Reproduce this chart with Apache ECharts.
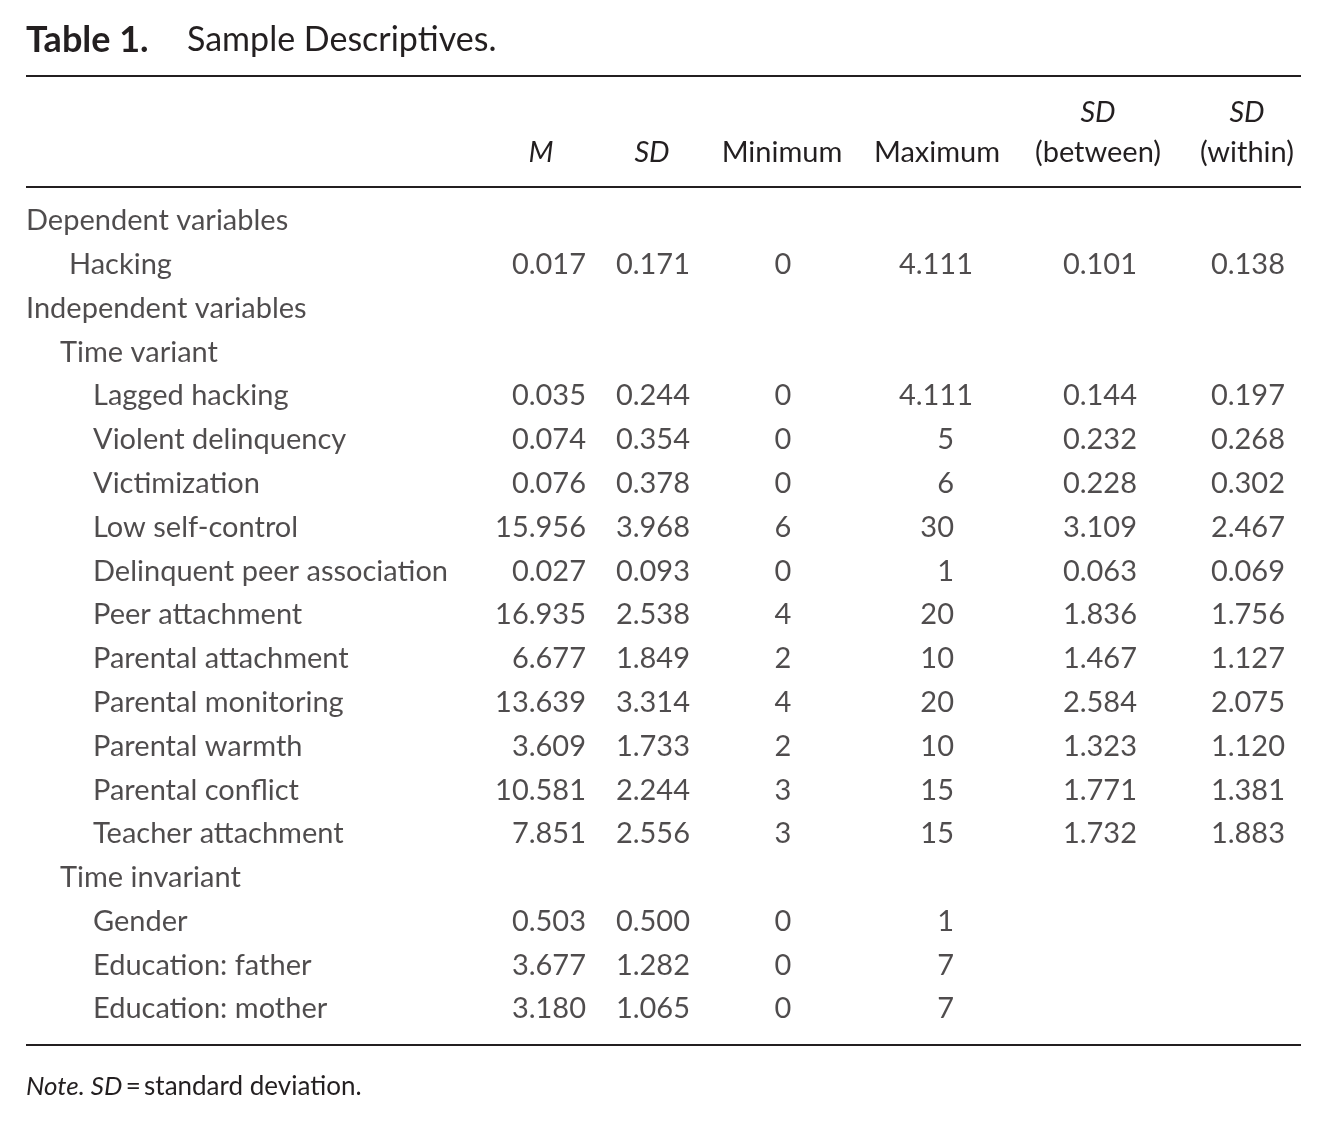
<!DOCTYPE html>
<html>
<head>
<meta charset="utf-8">
<style>
  html, body { margin: 0; padding: 0; background: #fff; }
  #chart { width: 1327px; height: 1121px; }
</style>
</head>
<body>
<div id="chart"></div>
<script src="https://cdn.jsdelivr.net/npm/echarts@6/dist/echarts.min.js"></script>
<script type="text/javascript">
// table rows (top to bottom)
var rowLabels = ['Dependent variables', 'Hacking', 'Independent variables', 'Time variant',
    'Lagged hacking', 'Violent delinquency', 'Victimization', 'Low self-control',
    'Delinquent peer association', 'Peer attachment', 'Parental attachment',
    'Parental monitoring', 'Parental warmth', 'Parental conflict', 'Teacher attachment',
    'Time invariant', 'Gender', 'Education: father', 'Education: mother'];
// indent level: 0 = group, 1 = sub group, 2 = variable, 3 = dependent variable
var rowLevels = [0, 3, 0, 1, 2, 2, 2, 2, 2, 2, 2, 2, 2, 2, 2, 1, 2, 2, 2];

var colMean = [null, 0.017, null, null, 0.035, 0.074, 0.076, 15.956, 0.027, 16.935, 6.677, 13.639, 3.609, 10.581, 7.851, null, 0.503, 3.677, 3.180];
var colSD = [null, 0.171, null, null, 0.244, 0.354, 0.378, 3.968, 0.093, 2.538, 1.849, 3.314, 1.733, 2.244, 2.556, null, 0.500, 1.282, 1.065];
var colMin = [null, 0, null, null, 0, 0, 0, 6, 0, 4, 2, 4, 2, 3, 3, null, 0, 0, 0];
var colMax = [null, 4.111, null, null, 4.111, 5, 6, 30, 1, 20, 10, 20, 10, 15, 15, null, 1, 7, 7];
var colSDb = [null, 0.101, null, null, 0.144, 0.232, 0.228, 3.109, 0.063, 1.836, 1.467, 2.584, 1.323, 1.771, 1.732, null, null, null, null];
var colSDw = [null, 0.138, null, null, 0.197, 0.268, 0.302, 2.467, 0.069, 1.756, 1.127, 2.075, 1.120, 1.381, 1.883, null, null, null, null];

var FONT = 'Lato';
var INK = '#231f20';
var SIZE = 29;
var indents = [26, 60, 93, 69];

function fmt(v) {
    return Number.isInteger(v) ? String(v) : v.toFixed(3);
}

// one text series per column; x is the anchor, y the row
function column(name, values, x, pos, decimalShift) {
    var data = [];
    values.forEach(function (v, i) {
        if (v === null) return;
        var px = x;
        if (decimalShift && !Number.isInteger(v)) px += decimalShift;
        data.push({ value: [px, i], text: fmt(v) });
    });
    return {
        name: name,
        type: 'scatter',
        symbolSize: 0,
        data: data,
        silent: true,
        label: {
            show: true,
            position: pos,
            distance: 0,
            formatter: function (p) { return p.data.text; },
            fontFamily: FONT,
            fontSize: SIZE,
            color: INK
        }
    };
}

var labelData = rowLabels.map(function (t, i) {
    return { value: [indents[rowLevels[i]], i], text: t };
});

var series = [
    {
        name: 'Variable',
        type: 'scatter',
        symbolSize: 0,
        silent: true,
        data: labelData,
        label: {
            show: true,
            position: 'right',
            distance: 0,
            formatter: function (p) { return p.data.text; },
            fontFamily: FONT,
            fontSize: SIZE,
            color: INK
        }
    },
    column('M', colMean, 586, 'left'),
    column('SD', colSD, 690, 'left'),
    column('Minimum', colMin, 783, 'inside'),
    column('Maximum', colMax, 954, 'left', 19),
    column('SD (between)', colSDb, 1137, 'left'),
    column('SD (within)', colSDw, 1285, 'left')
];

function txt(x, y, s, opts) {
    var st = {
        x: x, y: y, text: s,
        fill: INK,
        font: (opts && opts.font) || (SIZE + 'px ' + FONT),
        textAlign: (opts && opts.align) || 'center',
        textVerticalAlign: 'middle'
    };
    return { type: 'text', style: st, silent: true };
}
function rule(y) {
    return { type: 'line', shape: { x1: 26, y1: y, x2: 1301, y2: y }, style: { stroke: INK, lineWidth: 2 }, silent: true };
}

var myChart = echarts.init(document.getElementById('chart'));

var option = {
    backgroundColor: '#fff',
    animation: false,
    grid: { left: 0, right: 0, top: 199, bottom: 90 },
    xAxis: { type: 'value', min: 0, max: 1327, show: false },
    yAxis: {
        type: 'category',
        data: rowLabels.map(function (t, i) { return i; }),
        inverse: true,
        show: false
    },
    graphic: [
        txt(26, 40, 'Table 1.', { font: 'bold 36px ' + FONT, align: 'left' }),
        txt(187, 40, 'Sample Descriptives.', { font: '34px ' + FONT, align: 'left' }),
        rule(76),
        rule(187),
        rule(1045),
        txt(541, 153, 'M', { font: 'italic ' + SIZE + 'px ' + FONT }),
        txt(652, 153, 'SD', { font: 'italic ' + SIZE + 'px ' + FONT }),
        txt(782, 153, 'Minimum'),
        txt(937, 153, 'Maximum'),
        txt(1098, 113, 'SD', { font: 'italic ' + SIZE + 'px ' + FONT }),
        txt(1098, 153, '(between)'),
        txt(1247, 113, 'SD', { font: 'italic ' + SIZE + 'px ' + FONT }),
        txt(1247, 153, '(within)'),
        {
            type: 'text',
            silent: true,
            style: {
                x: 26, y: 1087,
                text: '{i|Note. SD}{n|\u2009=\u2009standard deviation.}',
                textVerticalAlign: 'middle',
                rich: {
                    i: { fontFamily: FONT, fontStyle: 'italic', fontSize: 26, fill: INK },
                    n: { fontFamily: FONT, fontSize: 26, fill: INK }
                }
            }
        }
    ],
    series: series
};
myChart.setOption(option);
</script>
</body>
</html>
